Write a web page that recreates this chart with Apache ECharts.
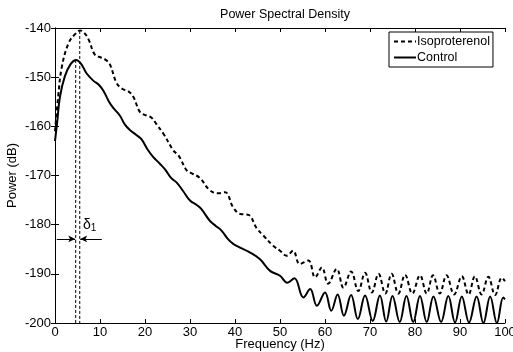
<!DOCTYPE html>
<html><head><meta charset="utf-8">
<script src="https://cdn.jsdelivr.net/npm/echarts@6/dist/echarts.min.js"></script>
<style>html,body{margin:0;padding:0;background:#fff}#c{width:513px;height:352px}</style>
</head><body><div id="c"></div>
<script>
const titleText = 'Power Spectral Density';
const xName = 'Frequency (Hz)';
const yName = 'Power (dB)';
const xTicks = [0, 10, 20, 30, 40, 50, 60, 70, 80, 90, 100];
const yTicks = [-200, -190, -180, -170, -160, -150, -140];

const isoproterenol = [
  [0,-161],[0.7,-154],[1.5,-148],[3,-143.1],[4.4,-141.3],[5.6,-140.5],[6.5,-141],[7.4,-142.2],
  [8.9,-145.5],[10.2,-146],[11.3,-146.5],[12.2,-147.4],[13.7,-151.2],[15,-152.4],[16.2,-152.8],
  [17.4,-154],[18.9,-157.1],[20.3,-157.8],[21.4,-158.2],[22.5,-159.5],[24.1,-161.5],[26.3,-164.9],
  [27.5,-166],[29.3,-169],[30.5,-169.6],[32.2,-170.5],[34.4,-173],[36.3,-173.6],[37.8,-173.4],
  [39.6,-176.5],[41.1,-177.8],[43,-178],[44.8,-180.7],[46.3,-182.2],[48.5,-184.3],[50,-185.3],
  [51.5,-186.3],[52.9,-185.3],[54.4,-188],[56.3,-187.3],[57.8,-190.7],[59.3,-188.7],[60.7,-192],
  [62.6,-189],[64.1,-192.8],[65.8,-189.5],[67.4,-193.5],[68.9,-189.8],[70.4,-193.8],[71.9,-190],
  [73.4,-194],[74.8,-190],[76.3,-194],[77.8,-190.2],[79.4,-194],[81.1,-190.3],[82.6,-194],
  [84,-190.3],[85.5,-194],[87,-190.3],[88.7,-194.2],[90.4,-190.5],[91.9,-194.2],[93.3,-190.5],
  [94.8,-194.2],[96.3,-190.6],[97.8,-194.3],[99.3,-190.8],[100,-191.5]
];
const control = [
  [0,-163],[0.5,-159],[1.1,-154],[2.2,-149.8],[3.5,-147.3],[4.7,-146.5],[5.8,-147.3],[7,-149.2],
  [8.5,-150.7],[9.8,-151.6],[10.9,-153],[12,-155],[13,-156.3],[14.4,-157.8],[15.5,-159.6],
  [16.7,-160.8],[18,-161.7],[19.2,-162.6],[20.5,-164.6],[21.8,-166.2],[23.3,-167.6],[24.5,-168.8],
  [25.8,-170.5],[27,-171.4],[28.5,-173.2],[30,-175.1],[31.5,-176],[32.5,-176.8],[34.4,-179.2],
  [35.8,-180.3],[37,-181.2],[38.5,-183],[39.6,-183.9],[41,-184.6],[43,-185.5],[45.5,-187],
  [47.8,-189.4],[50,-190.4],[51.6,-191.8],[53.2,-190.9],[55.2,-194.8],[56.7,-193.1],[58.2,-196.5],
  [60,-193.8],[61.4,-197.5],[62.8,-194.2],[64.2,-198.5],[65.8,-194.3],[67.3,-199.2],[68.9,-194.4],
  [70.6,-199.6],[72.2,-194.4],[73.6,-199.7],[75,-194.5],[76.6,-199.8],[78.1,-194.5],[79.6,-199.8],
  [81.1,-194.5],[82.6,-199.8],[84.1,-194.6],[85.8,-199.8],[87.4,-194.5],[88.9,-199.9],[90.4,-194.6],
  [92,-199.9],[93.7,-194.6],[95.2,-200],[96.7,-194.6],[98.2,-200],[99.6,-194.8],[100,-195.2]
];
// peak markers (vertical dashed lines)
const peakFreq = [4.6, 5.5];
const peakPower = [-146.5, -140.6];
// delta annotation
const arrowY = -182.9;
const arrowLeft = [0.4, 4.5];
const arrowRight = [10.4, 5.6];
const deltaPos = [7.7, -180.0];

const font = 'Liberation Sans, Arial, Helvetica, sans-serif';
const chart = echarts.init(document.getElementById('c'));

function vline(i) {
  return {
    type: 'line', silent: true, symbol: 'none', legendHoverLink: false,
    data: [[peakFreq[i], peakPower[i]], [peakFreq[i], yTicks[0]]],
    lineStyle: { color: '#000', width: 1, type: [3, 2] }, z: 1
  };
}

chart.setOption({
  animation: false,
  backgroundColor: '#fff',
  title: { text: titleText, left: 280, textAlign: 'center', top: 3,
    textStyle: { fontFamily: font, fontSize: 12.5, fontWeight: 'normal', color: '#000' } },
  legend: {
    orient: 'vertical', left: 389, top: 32, itemWidth: 22, itemHeight: 10, itemGap: 3,
    padding: [3, 3, 3, 4], borderColor: '#000', borderWidth: 1, backgroundColor: '#fff',
    data: ['Isoproterenol', 'Control'],
    itemStyle: { opacity: 0 },
    textStyle: { fontFamily: font, fontSize: 12.5, color: '#000', padding: [0, 0, 0, -4] }
  },
  grid: { left: 55, right: 8, top: 28, bottom: 29, outerBoundsMode: 'none', containLabel: false },
  xAxis: [{
    type: 'value', min: 0, max: 100, interval: 10, name: xName, nameLocation: 'middle', nameGap: 15,
    nameMoveOverlap: false,
    nameTextStyle: { fontFamily: font, fontSize: 13, color: '#000' },
    axisLine: { lineStyle: { color: '#000', width: 1 } },
    axisTick: { inside: true, length: 4, lineStyle: { color: '#000' } },
    axisLabel: { fontFamily: font, fontSize: 13, color: '#000', margin: 3 },
    splitLine: { show: false }
  }, {
    type: 'value', min: 0, max: 100, interval: 10, position: 'top',
    axisLine: { lineStyle: { color: '#000', width: 1 } },
    axisTick: { inside: true, length: 4, lineStyle: { color: '#000' } },
    axisLabel: { show: false }, splitLine: { show: false }
  }],
  yAxis: [{
    type: 'value', min: -200, max: -140, interval: 10, name: yName, nameLocation: 'middle', nameGap: 36,
    nameMoveOverlap: false,
    nameTextStyle: { fontFamily: font, fontSize: 13, color: '#000' },
    axisLine: { lineStyle: { color: '#000', width: 1 } },
    axisTick: { inside: true, length: 4, lineStyle: { color: '#000' } },
    axisLabel: { fontFamily: font, fontSize: 13, color: '#000', margin: 4 },
    splitLine: { show: false }
  }, {
    type: 'value', min: -200, max: -140, interval: 10, position: 'right',
    axisLine: { lineStyle: { color: '#000', width: 1 } },
    axisTick: { inside: true, length: 4, lineStyle: { color: '#000' } },
    axisLabel: { show: false }, splitLine: { show: false }
  }],
  series: [
    { name: 'Isoproterenol', type: 'line', data: isoproterenol, symbol: 'none', smooth: 0.4,
      lineStyle: { color: '#000', width: 2, type: [4, 3] }, itemStyle: { color: '#000' }, z: 3 },
    { name: 'Control', type: 'line', data: control, symbol: 'none', smooth: 0.4,
      lineStyle: { color: '#000', width: 2 }, itemStyle: { color: '#000' }, z: 3 },
    vline(0), vline(1),
    { type: 'line', data: [], symbol: 'none', silent: true,
      markLine: {
        silent: true, symbol: ['none', 'arrow'], symbolSize: [5, 7], animation: false,
        lineStyle: { color: '#000', width: 1, type: 'solid' }, label: { show: false },
        data: [
          [{ coord: [arrowLeft[0], arrowY] }, { coord: [arrowLeft[1], arrowY] }],
          [{ coord: [arrowRight[0], arrowY] }, { coord: [arrowRight[1], arrowY] }]
        ]
      }
    },
    { type: 'scatter', silent: true, symbolSize: 1, itemStyle: { opacity: 0 }, data: [deltaPos],
      label: { show: true, position: 'inside', color: '#000', opacity: 1, formatter: '{a|δ}{b|1}',
        rich: { a: { fontFamily: font, fontSize: 14, color: '#000' },
                b: { fontFamily: font, fontSize: 10, color: '#000', padding: [8, 0, 0, 0] } } }
    }
  ]
});
</script></body></html>
